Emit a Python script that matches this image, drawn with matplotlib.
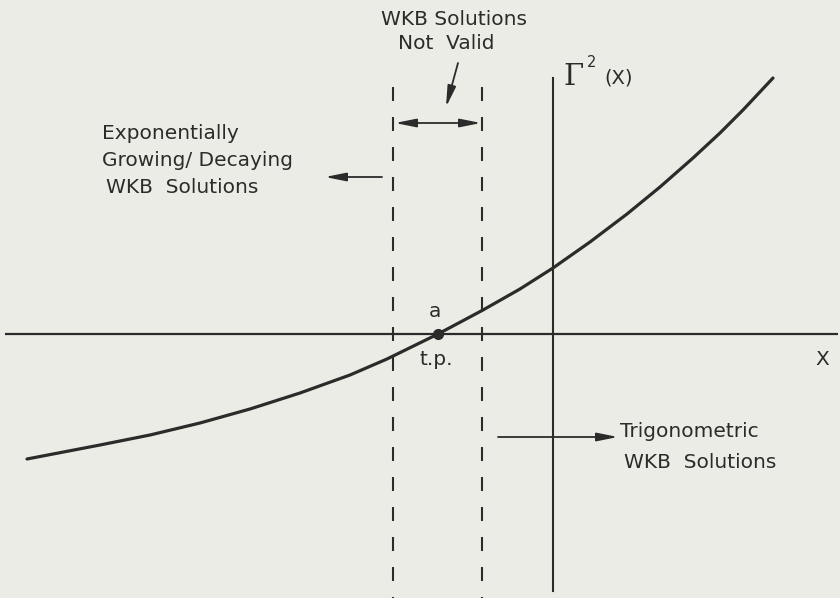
import matplotlib.pyplot as plt
import numpy as np

x_curve = [-4.11, -3.38, -2.88, -2.38, -1.88, -1.38, -0.88, -0.51, 0.0,
           0.45, 0.82, 1.15, 1.52, 1.89, 2.22, 2.55, 2.82, 3.05, 3.35]
gamma_sq = [-1.25, -1.11, -1.01, -0.89, -0.75, -0.59, -0.41, -0.25, 0.0,
            0.24, 0.45, 0.66, 0.92, 1.20, 1.47, 1.76, 2.01, 2.24, 2.56]

turning_point = 0.0
invalid_zone = [-0.45, 0.44]    # edges of the region where WKB breaks down
trig_boundary = 1.15            # where the Gamma^2 axis is drawn

bg = '#ecece7'
ink = '#2b2b2b'
font = 'DejaVu Sans'

fig = plt.figure(figsize=(8.4, 5.98), dpi=100, facecolor=bg)
ax = fig.add_axes([0, 0, 1, 1])
ax.set_facecolor(bg)
ax.set_xlim(-4.38, 4.02)
ax.set_ylim(-2.64, 3.34)
ax.axis('off')

# x axis
ax.plot([-4.33, 4.00], [0, 0], color=ink, lw=1.6, solid_capstyle='butt')

# vertical axis for Gamma^2
ax.plot([trig_boundary, trig_boundary], [2.56, -2.57], color=ink, lw=1.5)

# dashed boundaries of the invalid region
lw_d = 1.5
for xd in invalid_zone:
    ax.plot([xd, xd], [2.47, -2.70], color=ink, lw=lw_d,
            dashes=(14 * 0.72 / lw_d, 16 * 0.72 / lw_d))

# the curve and the turning point
ax.plot(x_curve, gamma_sq, color=ink, lw=2.3, solid_capstyle='round',
        solid_joinstyle='round')
ax.plot([turning_point], [0], 'o', color=ink, ms=7, zorder=5)

arrow = dict(arrowstyle='-|>,head_length=0.9,head_width=0.18', color=ink,
             lw=1.3, shrinkA=0, shrinkB=0, mutation_scale=14)
darrow = dict(arrowstyle='<|-|>,head_length=0.9,head_width=0.18', color=ink,
              lw=1.3, shrinkA=0, shrinkB=0, mutation_scale=14)

fs = 14.5
# left region label
ax.text(-3.36, 1.95, 'Exponentially', fontname=font, fontsize=fs, color=ink)
ax.text(-3.36, 1.68, 'Growing/ Decaying', fontname=font, fontsize=fs, color=ink)
ax.text(-3.32, 1.41, 'WKB  Solutions', fontname=font, fontsize=fs, color=ink)
ax.annotate('', xy=(-1.13, 1.57), xytext=(-0.56, 1.57), arrowprops=arrow)

# invalid region label
ax.text(0.16, 3.09, 'WKB Solutions', fontname=font, fontsize=fs, color=ink,
        ha='center')
ax.text(0.08, 2.85, 'Not  Valid', fontname=font, fontsize=fs, color=ink,
        ha='center')
ax.annotate('', xy=(0.08, 2.27), xytext=(0.20, 2.71), arrowprops=arrow)
ax.annotate('', xy=(invalid_zone[0] + 0.02, 2.11),
            xytext=(invalid_zone[1] - 0.01, 2.11), arrowprops=darrow)

# Gamma^2(X) label
ax.text(1.25, 2.49, '\u0393', fontname='DejaVu Serif', fontsize=21, color=ink)
ax.text(1.49, 2.67, '2', fontname=font, fontsize=10.5, color=ink)
ax.text(1.66, 2.51, '(X)', fontname=font, fontsize=14, color=ink)

# turning point labels
ax.text(-0.03, 0.17, 'a', fontname=font, fontsize=fs, color=ink, ha='center')
ax.text(-0.02, -0.31, 't.p.', fontname=font, fontsize=fs, color=ink,
        ha='center')
ax.text(3.84, -0.31, 'X', fontname=font, fontsize=fs, color=ink, ha='center')

# right region label
ax.annotate('', xy=(1.80, -1.03), xytext=(0.60, -1.03), arrowprops=arrow)
ax.text(1.82, -1.03, 'Trigonometric', fontname=font, fontsize=fs, color=ink)
ax.text(1.86, -1.34, 'WKB  Solutions', fontname=font, fontsize=fs, color=ink)

fig.savefig('out.png', dpi=100, facecolor=bg)
